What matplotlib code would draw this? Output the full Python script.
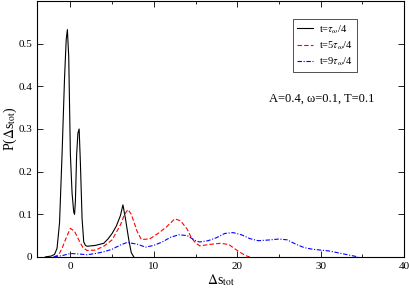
import matplotlib
matplotlib.use('Agg')
import matplotlib.pyplot as plt
from matplotlib.ticker import MultipleLocator

plt.rcParams['font.family'] = ['Liberation Serif', 'DejaVu Serif']
plt.rcParams['mathtext.fontset'] = 'stix'

# t = tau/4
x1 = [-3.0, -2.3, -1.9, -1.6, -1.3, -1.0, -0.7, -0.5, -0.36, -0.2, 0.0, 0.2, 0.4,
      0.5, 0.6, 0.75, 0.9, 1.05, 1.2, 1.4, 1.6, 1.8, 2.0, 3.0, 4.0, 4.5, 5.0, 5.5,
      6.0, 6.3, 6.6, 7.0, 7.3, 7.6]
y1 = [0.0, 0.002, 0.006, 0.02, 0.08, 0.24, 0.42, 0.51, 0.533, 0.47, 0.24, 0.15,
      0.105, 0.10, 0.13, 0.24, 0.29, 0.30, 0.22, 0.09, 0.035, 0.027, 0.025, 0.027,
      0.032, 0.042, 0.055, 0.072, 0.097, 0.122, 0.09, 0.04, 0.01, 0.0]

# t = 5 tau/4
x2 = [-2.0, -1.4, -1.0, -0.5, 0.0, 0.5, 1.0, 1.5, 2.0, 3.0, 4.0, 5.0, 6.0, 6.5,
      6.9, 7.3, 8.0, 8.5, 9.5, 10.5, 11.5, 12.5, 13.2, 14.0, 14.5, 15.0, 15.5,
      17.0, 18.0, 19.0, 20.0, 21.0, 21.5]
y2 = [0.0, 0.005, 0.02, 0.045, 0.067, 0.06, 0.04, 0.022, 0.015, 0.016, 0.025,
      0.04, 0.075, 0.1, 0.111, 0.1, 0.06, 0.041, 0.042, 0.055, 0.07, 0.089, 0.085,
      0.065, 0.045, 0.033, 0.026, 0.03, 0.032, 0.029, 0.015, 0.003, 0.0]

# t = 9 tau/4
x3 = [-2.0, -1.0, 0.0, 1.0, 2.0, 3.0, 4.0, 5.0, 6.0, 6.8, 8.0, 9.0, 10.0, 11.0,
      12.0, 13.0, 14.0, 15.0, 15.5, 16.5, 17.5, 18.5, 19.5, 20.5, 21.5, 22.5,
      24.0, 25.0, 26.0, 27.0, 28.0, 29.0, 30.0, 31.0, 32.0, 33.0, 34.0, 34.5]
y3 = [0.0, 0.003, 0.008, 0.007, 0.005, 0.008, 0.012, 0.018, 0.028, 0.034, 0.03,
      0.023, 0.027, 0.035, 0.046, 0.052, 0.05, 0.038, 0.035, 0.038, 0.045, 0.055,
      0.057, 0.052, 0.043, 0.038, 0.04, 0.042, 0.04, 0.03, 0.022, 0.018, 0.016,
      0.014, 0.01, 0.006, 0.002, 0.0]

labels = [r't=$\tau_\omega$/4', r't=5$\tau_\omega$/4', r't=9$\tau_\omega$/4']

fig = plt.figure(figsize=(4.09, 2.89), dpi=100)
ax = fig.add_axes([0.0905, 0.111, 0.8975, 0.8855])

ax.plot(x1, y1, color='black', lw=0.8, label=labels[0])
ax.plot(x2, y2, color='red', lw=0.8, ls=(0, (4, 2)), label=labels[1])
ax.plot(x3, y3, color='blue', lw=0.8, ls=(0, (4, 1.5, 1, 1.5)), label=labels[2])

ax.set_xlim(-4, 40)
ax.set_ylim(0, 0.6)
ax.xaxis.set_major_locator(MultipleLocator(10))
ax.xaxis.set_minor_locator(MultipleLocator(5))
ax.set_yticks([0, 0.1, 0.2, 0.3, 0.4, 0.5])
ax.set_yticklabels(['0', '0.1', '0.2', '0.3', '0.4', '0.5'])
ax.tick_params(which='both', direction='in', top=True, right=True, labelsize=8)
ax.tick_params(which='major', length=4, width=0.6)
ax.tick_params(which='minor', length=2, width=0.6)
for s in ax.spines.values():
    s.set_linewidth(0.8)

ax.set_xlabel(r'$\Delta$s$_{\rm tot}$', fontsize=10, labelpad=1)
ax.set_ylabel(r'P($\Delta$s$_{\rm tot}$)', fontsize=10)
ax.yaxis.set_label_coords(-0.05, 0.5)

ax.text(0.775, 0.62, 'A=0.4, ω=0.1, T=0.1', transform=ax.transAxes,
        ha='center', va='center', fontsize=9)

leg = ax.legend(loc='upper left', bbox_to_anchor=(0.697, 0.93), borderaxespad=0,
                fontsize=7.5, frameon=True, fancybox=False, edgecolor='black',
                handlelength=1.5, borderpad=0.4, labelspacing=0.35, handletextpad=0.6)
leg.get_frame().set_linewidth(0.6)

fig.savefig('out.png', dpi=100)
